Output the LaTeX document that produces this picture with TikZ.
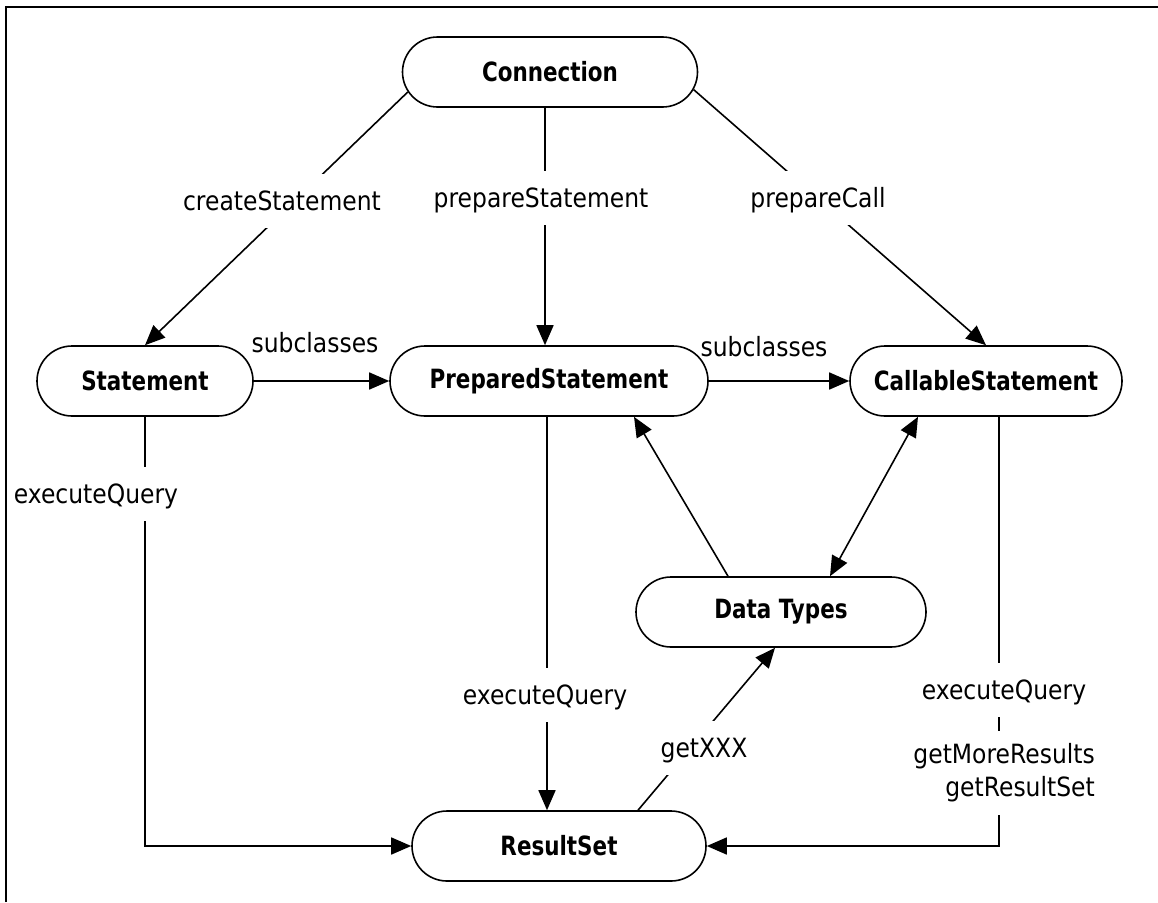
\documentclass[tikz,border=0pt]{standalone}
\usepackage{fontspec}
\setmainfont{DejaVu Sans}[FakeStretch=0.885]
\newfontfamily\nodefont{DejaVu Sans}[FakeStretch=0.81]
\usetikzlibrary{arrows.meta,shapes.misc,calc}
\begin{document}
\begin{tikzpicture}[x=1pt,y=-1pt,
  box/.style={draw, line width=1.6pt, rounded rectangle, minimum width=#1, minimum height=70pt, inner sep=0pt,
    font=\nodefont\bfseries\fontsize{26.5}{30}\selectfont},
  conn/.style={line width=1.6pt, -{Triangle[length=20pt,width=17pt]}},
  dbl/.style={line width=1.6pt, {Triangle[length=20pt,width=17pt]}-{Triangle[length=20pt,width=17pt]}},
  plainline/.style={line width=1.6pt},
  lbl/.style={fill=white, text height=19pt, text depth=0pt, inner xsep=4pt, inner ysep=17.5pt,
    font=\fontsize{26.5}{33}\selectfont},
  freelbl/.style={inner sep=0pt, text height=19pt, text depth=0pt, font=\fontsize{26.5}{33}\selectfont},
  ]
\useasboundingbox (0,0) rectangle (1158,902);
\draw[line width=2.5pt] (6,902) -- (6,7) -- (1158,7);

% nodes
\node[box=295pt] (con) at (550,72) {Connection};
\node[box=216pt] (st) at (145,381) {Statement};
\node[box=318pt] (ps) at (549,381) {PreparedStatement};
\node[box=272pt] (cs) at (986,381) {CallableStatement};
\node[box=290pt] (dt) at (781,612) {Data Types};
\node[box=294pt] (rs) at (559,846) {ResultSet};

% connectors
\draw[conn] (con.188) -- (st.north);
\draw[conn] ([xshift=-5pt]con.south) -- ([xshift=-5pt]con.south |- ps.north);
\draw[conn] (con.353) -- (cs.north);
\draw[conn] (st.east) -- (ps.west);
\draw[conn] (ps.east) -- (cs.west);
\draw[conn] ([xshift=-53pt]dt.north) -- ([xshift=85pt]ps.south);
\draw[dbl] ([xshift=49pt]dt.north) -- ([xshift=-68pt]cs.south);
\draw[conn] (st.south) -- (st.south |- rs.west) -- (rs.west);
\draw[conn] ([xshift=-2pt]ps.south) -- ([xshift=-2pt]ps.south |- rs.north);
\draw[conn] ([xshift=79pt]rs.north) -- ([xshift=-6pt]dt.south);
\draw[conn] ([xshift=13pt]cs.south) -- ([xshift=13pt]cs.south |- rs.east) -- (rs.east);

% labels
\node[lbl] (l1) at (282,201) {createStatement};
\node[lbl] (l2) at (541,198) {prepareStatement};
\node[lbl] (l3) at (818,198) {prepareCall};
\node[freelbl] (l4) at (315,343) {subclasses};
\node[freelbl] (l5) at (764,347) {subclasses};
\node[lbl] (l6) at (96,494) {executeQuery};
\node[lbl] (l7) at (545,695) {executeQuery};
\node[lbl] (l8) at (704,748) {getXXX};
\node[lbl] (l9) at (1004,690) {executeQuery};
\node[fill=white, align=right, anchor=east, inner xsep=4pt, inner ysep=13pt,
  font=\fontsize{26.5}{33}\selectfont] (l10) at (1099,773) {getMoreResults\\getResultSet};
\end{tikzpicture}
\end{document}
